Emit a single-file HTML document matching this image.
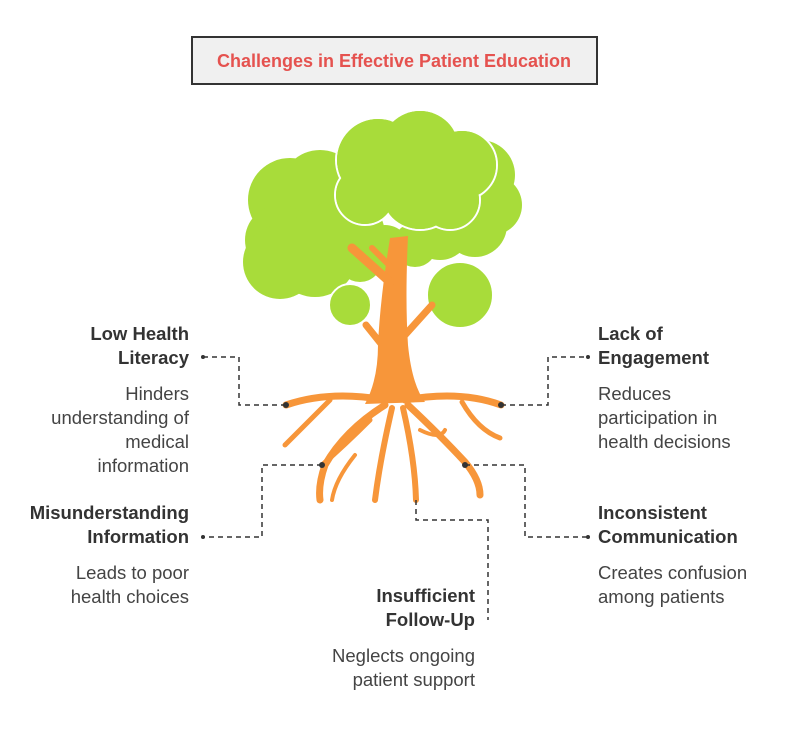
<!DOCTYPE html>
<html><head><style>
body{margin:0;background:#fff;width:800px;height:740px;overflow:hidden;font-family:"Liberation Sans",sans-serif}
</style></head><body>
<svg width="800" height="740" viewBox="0 0 800 740" xmlns="http://www.w3.org/2000/svg" font-family="Liberation Sans, sans-serif">
<rect x="192" y="37" width="405" height="47" fill="#f0f0f0" stroke="#333" stroke-width="2"/>
<text x="394" y="67" text-anchor="middle" font-size="18" font-weight="bold" fill="#e5524f">Challenges in Effective Patient Education</text>

<g fill="#a8dc3a">
<circle cx="290" cy="200" r="42"/>
<circle cx="320" cy="190" r="40"/>
<circle cx="280" cy="240" r="35"/>
<circle cx="280" cy="262" r="37"/>
<circle cx="315" cy="255" r="42"/>
<circle cx="345" cy="235" r="40"/>
<circle cx="360" cy="260" r="22"/>
<circle cx="385" cy="250" r="25"/>
<circle cx="480" cy="175" r="35"/>
<circle cx="492" cy="205" r="30"/>
<circle cx="475" cy="225" r="32"/>
<circle cx="440" cy="230" r="30"/>
<circle cx="415" cy="245" r="22"/>
</g>
<g fill="#a8dc3a" stroke="#fff" stroke-width="2">
<circle cx="378" cy="160" r="42"/>
<circle cx="420" cy="150" r="40"/>
<circle cx="462" cy="165" r="35"/>
<circle cx="420" cy="190" r="40"/>
<circle cx="450" cy="200" r="30"/>
<circle cx="365" cy="195" r="30"/>
</g>
<g fill="#a8dc3a">
<circle cx="378" cy="160" r="41"/>
<circle cx="420" cy="150" r="39"/>
<circle cx="462" cy="165" r="34"/>
<circle cx="420" cy="190" r="39"/>
<circle cx="450" cy="200" r="29"/>
<circle cx="365" cy="195" r="29"/>
</g>
<g fill="#a8dc3a" stroke="#fff" stroke-width="2">
<circle cx="460" cy="295" r="33"/>
<circle cx="350" cy="305" r="21"/>
</g>
<g fill="#f7963a">
<path d="M390 238 L408 236 Q405 300 408 345 Q412 385 425 402 L365 404 Q378 380 378 345 Q380 300 390 238 Z"/>
</g>
<g fill="none" stroke="#f7963a" stroke-linecap="round">
<path d="M352 248 L390 282" stroke-width="9"/>
<path d="M372 248 L392 268" stroke-width="6"/>
<path d="M432 305 L405 335" stroke-width="7"/>
<path d="M366 325 L382 345" stroke-width="7"/>
<path d="M385 400 Q330 390 286 405" stroke-width="7"/>
<path d="M330 400 Q305 425 285 445" stroke-width="5"/>
<path d="M405 400 Q460 390 501 405" stroke-width="7"/>
<path d="M462 402 Q478 430 500 438" stroke-width="5"/>
<path d="M385 405 Q345 430 325 465 Q318 485 320 500" stroke-width="7"/>
<path d="M370 420 Q345 445 322 465" stroke-width="5"/>
<path d="M392 408 Q380 460 375 500" stroke-width="6"/>
<path d="M403 408 Q415 460 416 500" stroke-width="6"/>
<path d="M408 405 Q440 435 465 462 Q480 480 480 495" stroke-width="7"/>
<path d="M420 430 Q440 440 445 430" stroke-width="4"/>
<path d="M355 455 Q335 480 332 500" stroke-width="4"/>
</g>
<g fill="none" stroke="#333" stroke-width="1.5" stroke-dasharray="5,4">
<path d="M286 405 H239 V357 H203"/>
<path d="M501 405 H548 V357 H588"/>
<path d="M322 465 H262 V537 H203"/>
<path d="M465 465 H525 V537 H588"/>
<path d="M416 500 V520 H488 V620"/>
</g>
<g fill="#333"><circle cx="286" cy="405" r="3"/><circle cx="501" cy="405" r="3"/><circle cx="322" cy="465" r="3"/><circle cx="465" cy="465" r="3"/><circle cx="203" cy="357" r="2"/><circle cx="588" cy="357" r="2"/><circle cx="203" cy="537" r="2"/><circle cx="588" cy="537" r="2"/></g>

<g font-size="18.5" fill="#333">
<g font-weight="bold" text-anchor="end">
<text x="189" y="340">Low Health</text><text x="189" y="364">Literacy</text>
<text x="189" y="519">Misunderstanding</text><text x="189" y="543">Information</text>
<text x="475" y="602">Insufficient</text><text x="475" y="626">Follow-Up</text>
</g>
<g font-weight="bold">
<text x="598" y="340">Lack of</text><text x="598" y="364">Engagement</text>
<text x="598" y="519">Inconsistent</text><text x="598" y="543">Communication</text>
</g>
<g text-anchor="end" fill="#444">
<text x="189" y="400">Hinders</text><text x="189" y="424">understanding of</text><text x="189" y="448">medical</text><text x="189" y="472">information</text>
<text x="189" y="579">Leads to poor</text><text x="189" y="603">health choices</text>
<text x="475" y="662">Neglects ongoing</text><text x="475" y="686">patient support</text>
</g>
<g fill="#444">
<text x="598" y="400">Reduces</text><text x="598" y="424">participation in</text><text x="598" y="448">health decisions</text>
<text x="598" y="579">Creates confusion</text><text x="598" y="603">among patients</text>
</g>
</g>
</svg>
</body></html>
